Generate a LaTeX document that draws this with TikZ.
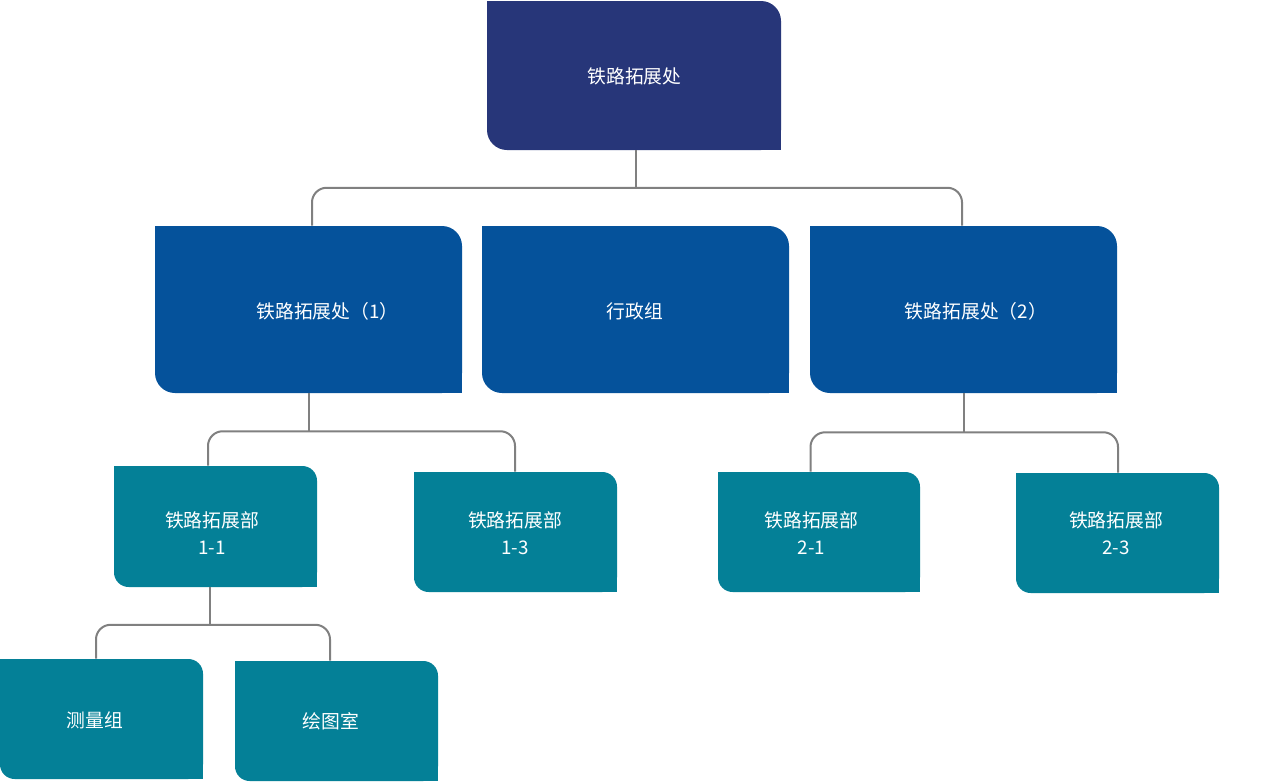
\documentclass[tikz,border=0pt]{standalone}
\usepackage{fontspec}
\newfontfamily\cjk{Noto Sans CJK SC}
\usetikzlibrary{calc}
\definecolor{rootblue}{RGB}{39,54,121}
\definecolor{midblue}{RGB}{5,82,155}
\definecolor{teal}{RGB}{4,128,151}
\definecolor{linegray}{RGB}{128,128,128}
\tikzset{
  box/.style={rectangle, inner sep=0pt},
  bigbox/.style={box, rounded corners=15pt},
  smallbox/.style={box, rounded corners=11pt},
  txt/.style={inner sep=0pt, text=white, align=center,
    font=\cjk\fontsize{14.1}{20.5}\selectfont},
  conn/.style={draw=linegray, line width=1.5pt, rounded corners=11pt},
}
\newcommand\sharpcorners[3]{%
  \fill[#2] (#1.north west) rectangle ++(#3,#3);
  \fill[#2] (#1.south east) rectangle ++(-#3,-#3);}
\begin{document}
\begin{tikzpicture}[x=0.75pt,y=-0.75pt]
\fill[white] (0,0) rectangle (1280,782);
\useasboundingbox (0,0) rectangle (1280,782);

% root
\node[bigbox, fill=rootblue, minimum width={294*0.75pt}, minimum height={149*0.75pt}] (root) at (634,75.5) {};
\sharpcorners{root}{rootblue}{25}
\node[txt] (root-t) at (634.5,76) {铁路拓展处};

% level 2
\node[bigbox, fill=midblue, minimum width={307*0.75pt}, minimum height={167*0.75pt}] (A) at (308.5,309.5) {};
\sharpcorners{A}{midblue}{25}
\node[txt] (A-t) at (327.5,311) {铁路拓展处（1）};
\node[bigbox, fill=midblue, minimum width={307*0.75pt}, minimum height={167*0.75pt}] (B) at (635.5,309.5) {};
\sharpcorners{B}{midblue}{25}
\node[txt] (B-t) at (635,311) {行政组};
\node[bigbox, fill=midblue, minimum width={307*0.75pt}, minimum height={167*0.75pt}] (C) at (963.5,309.5) {};
\sharpcorners{C}{midblue}{25}
\node[txt] (C-t) at (976,311) {铁路拓展处（2）};

% level 3
\node[smallbox, fill=teal, minimum width={203*0.75pt}, minimum height={121*0.75pt}] (n11) at (215.5,526.5) {};
\sharpcorners{n11}{teal}{18}
\node[txt] (n11-t) at (212,533) {铁路拓展部\\1-1};
\node[smallbox, fill=teal, minimum width={203*0.75pt}, minimum height={120*0.75pt}] (n13) at (515.5,532) {};
\sharpcorners{n13}{teal}{18}
\node[txt] (n13-t) at (515,533) {铁路拓展部\\1-3};
\node[smallbox, fill=teal, minimum width={202*0.75pt}, minimum height={120*0.75pt}] (n21) at (819,532) {};
\sharpcorners{n21}{teal}{18}
\node[txt] (n21-t) at (811.5,533) {铁路拓展部\\2-1};
\node[smallbox, fill=teal, minimum width={203*0.75pt}, minimum height={120*0.75pt}] (n23) at (1117.5,533) {};
\sharpcorners{n23}{teal}{18}
\node[txt] (n23-t) at (1116,533) {铁路拓展部\\2-3};

% level 4
\node[smallbox, fill=teal, minimum width={203*0.75pt}, minimum height={120*0.75pt}] (m1) at (101.5,719) {};
\sharpcorners{m1}{teal}{18}
\node[txt] (m1-t) at (95,720) {测量组};
\node[smallbox, fill=teal, minimum width={203*0.75pt}, minimum height={120*0.75pt}] (m2) at (336.5,721) {};
\sharpcorners{m2}{teal}{18}
\node[txt] (m2-t) at (331,721) {绘图室};

% connectors
\coordinate (j0) at ($(root.south)+(2,37.5)$);
\draw[conn] ($(root.south)+(2,0)$) -- (j0);
\draw[conn] ($(A.north)+(3.5,0)$) |- (j0) -| ($(C.north)+(-1.5,0)$);

\coordinate (jA) at ($(A.south)+(0,38)$);
\draw[conn] (A.south) -- (jA);
\draw[conn] ($(n11.north)+(-7.5,0)$) |- (jA) -| ($(n13.north)+(-0.5,0)$);

\coordinate (jC) at ($(C.south)+(0,39)$);
\draw[conn] (C.south) -- (jC);
\draw[conn] ($(n21.north)+(-8.5,0)$) |- (jC) -| ($(n23.north)+(0.5,0)$);

\coordinate (j11) at ($(n11.south)+(-6,37.5)$);
\draw[conn] ($(n11.south)+(-6,0)$) -- (j11);
\draw[conn] ($(m1.north)+(-5.5,0)$) |- (j11) -| ($(m2.north)+(-6.5,0)$);
\end{tikzpicture}
\end{document}
